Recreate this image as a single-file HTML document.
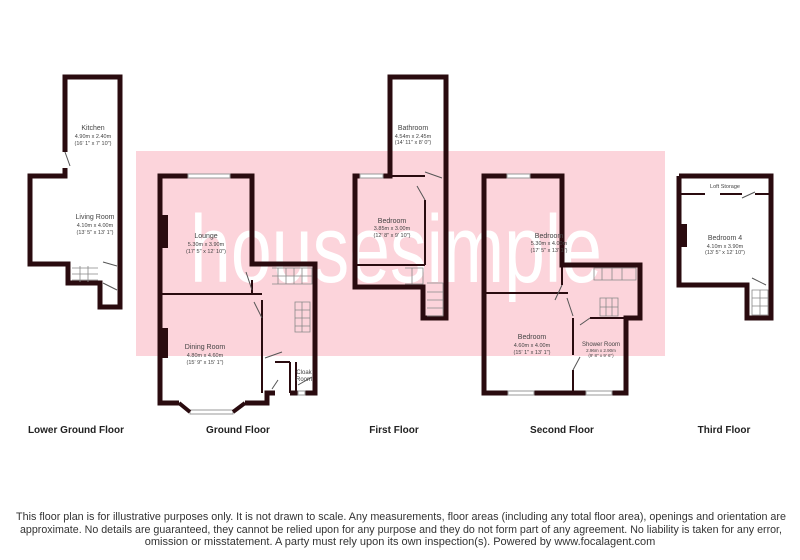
<!DOCTYPE html>
<html><head><meta charset="utf-8"><style>
html,body{margin:0;padding:0;background:#fff;}
svg{display:block;}
text{font-family:"Liberation Sans",sans-serif;}
</style></head><body>
<svg width="800" height="560" viewBox="0 0 800 560" xmlns="http://www.w3.org/2000/svg">
<rect x="136" y="151" width="529" height="205" fill="#fcd4db"/>
<text x="190" y="282" font-size="96" fill="#fff" textLength="412" lengthAdjust="spacingAndGlyphs">housesimple</text>

<g fill="none" stroke="#2a0b0f" stroke-width="5" stroke-linejoin="miter">
<!-- Lower ground -->
<polyline points="65,152 65,77 120,77 120,307 100,307 100,283 68,283 68,264 30,264 30,176 65,176 65,168"/>
<!-- Ground -->
<polyline points="188,176 160,176 160,403 179,403"/>
<polyline points="230,176 252,176 252,264 315,264 315,393 305,393"/>
<polyline points="245,403 267,403 267,393 275,393"/>
<line x1="298" y1="393" x2="290" y2="393"/>
<!-- First -->
<polyline points="360,176 355,176 355,287 423,287 423,318 446,318 446,77 390,77 390,176 383,176"/>
<!-- Second -->
<polyline points="507,176 484,176 484,393 508,393"/>
<polyline points="534,393 586,393"/>
<polyline points="612,393 626,393 626,318 640,318 640,265 562,265 562,176 530,176"/>
<!-- Third -->
<polyline points="679,176 771,176 771,318 747,318 747,285 679,285 679,176"/>
</g>
<g fill="#2a0b0f">
<rect x="160" y="215" width="8" height="33"/>
<rect x="160" y="328" width="8" height="30"/>
<rect x="679" y="224" width="8" height="23"/>
</g>
<g fill="none" stroke="#2a0b0f" stroke-width="2">
<line x1="160" y1="294" x2="262" y2="294"/>
<line x1="262" y1="300" x2="262" y2="393"/>
<line x1="252" y1="280" x2="252" y2="294"/>
<line x1="275" y1="362" x2="290" y2="362"/>
<line x1="290" y1="362" x2="290" y2="393"/>
<line x1="296" y1="362" x2="296" y2="393"/>
<line x1="355" y1="265" x2="425" y2="265"/>
<line x1="425" y1="200" x2="425" y2="265"/>
<line x1="390" y1="176" x2="425" y2="176"/>
<line x1="484" y1="293" x2="568" y2="293"/>
<line x1="573" y1="318" x2="573" y2="355"/>
<line x1="573" y1="370" x2="573" y2="393"/>
<line x1="590" y1="318" x2="626" y2="318"/>
<line x1="562" y1="265" x2="562" y2="285"/>
<line x1="679" y1="194" x2="705" y2="194"/>
<line x1="720" y1="194" x2="742" y2="194"/>
<line x1="755" y1="194" x2="771" y2="194"/>
</g>
<!-- windows -->
<g fill="#fff" stroke="#999" stroke-width="1">
<rect x="188" y="174" width="42" height="4"/>
<rect x="190" y="410" width="43" height="4"/>
<rect x="360" y="174" width="23" height="4"/>
<rect x="507" y="174" width="23" height="4"/>
<rect x="508" y="391" width="26" height="4"/>
<rect x="586" y="391" width="26" height="4"/>
<rect x="298" y="391" width="7" height="4"/>
</g>
<g fill="none" stroke="#2a0b0f" stroke-width="4">
<line x1="179" y1="403" x2="190" y2="412"/>
<line x1="233" y1="412" x2="245" y2="403"/>
</g>
<!-- doors -->
<g fill="none" stroke="#555" stroke-width="1">
<line x1="65" y1="152" x2="70" y2="166"/>
<line x1="103" y1="262" x2="117" y2="266"/>
<line x1="103" y1="283" x2="117" y2="290"/>
<line x1="246" y1="272" x2="252" y2="290"/>
<line x1="254" y1="302" x2="262" y2="318"/>
<line x1="265" y1="358" x2="282" y2="352"/>
<line x1="272" y1="389" x2="278" y2="380"/>
<line x1="298" y1="385" x2="312" y2="377"/>
<line x1="425" y1="172" x2="442" y2="178"/>
<line x1="417" y1="186" x2="425" y2="200"/>
<line x1="555" y1="300" x2="562" y2="285"/>
<line x1="567" y1="298" x2="573" y2="316"/>
<line x1="580" y1="325" x2="590" y2="318"/>
<line x1="573" y1="370" x2="580" y2="357"/>
<line x1="742" y1="198" x2="755" y2="192"/>
<line x1="752" y1="278" x2="766" y2="285"/>
</g>
<!-- stairs -->
<g fill="none" stroke="#888" stroke-width="0.8">
<path d="M72,268 h26 M72,274 h26 M72,280 h26 M80,266 v16 M88,266 v16"/>
<path d="M272,268 h40 v16 h-40 M278,268 v16 M286,268 v16 M294,268 v16 M302,268 v16 M272,276 h40"/>
<path d="M295,302 h15 v30 h-15 z M295,310 h15 M295,318 h15 M295,326 h15 M302,302 v30"/>
<path d="M405,268 h18 v16 h-18 M427,283 h16 v33 h-16 M427,292 h16 M427,300 h16 M427,308 h16 M412,268 v16"/>
<path d="M594,268 h42 v12 h-42 z M602,268 v12 M612,268 v12 M622,268 v12"/>
<path d="M600,298 h18 v18 h-18 z M606,298 v18 M612,298 v18 M600,307 h18"/>
<path d="M752,290 h16 v25 h-16 z M752,298 h16 M752,306 h16 M760,290 v25"/>
</g>
<!-- labels -->
<g fill="#444" text-anchor="middle">
<text x="93" y="130" font-size="7">Kitchen</text>
<text x="93" y="138" font-size="5.5">4.90m x 2.40m</text>
<text x="93" y="145" font-size="5.5">(16' 1" x 7' 10")</text>
<text x="95" y="219" font-size="7">Living Room</text>
<text x="95" y="227" font-size="5.5">4.10m x 4.00m</text>
<text x="95" y="234" font-size="5.5">(13' 5" x 13' 1")</text>
<text x="206" y="238" font-size="7">Lounge</text>
<text x="206" y="246" font-size="5.5">5.30m x 3.90m</text>
<text x="206" y="253" font-size="5.5">(17' 5" x 12' 10")</text>
<text x="205" y="349" font-size="7">Dining Room</text>
<text x="205" y="357" font-size="5.5">4.80m x 4.60m</text>
<text x="205" y="364" font-size="5.5">(15' 9" x 15' 1")</text>
<text x="304" y="374" font-size="6">Cloak</text>
<text x="304" y="381" font-size="6">Room</text>
<text x="413" y="130" font-size="7">Bathroom</text>
<text x="413" y="138" font-size="5.5">4.54m x 2.45m</text>
<text x="413" y="144" font-size="5.5">(14' 11" x 8' 0")</text>
<text x="392" y="223" font-size="7">Bedroom</text>
<text x="392" y="230" font-size="5.5">3.85m x 3.00m</text>
<text x="392" y="237" font-size="5.5">(12' 8" x 9' 10")</text>
<text x="549" y="238" font-size="7">Bedroom</text>
<text x="549" y="245" font-size="5.5">5.30m x 4.00m</text>
<text x="549" y="252" font-size="5.5">(17' 5" x 13' 1")</text>
<text x="532" y="339" font-size="7">Bedroom</text>
<text x="532" y="347" font-size="5.5">4.60m x 4.00m</text>
<text x="532" y="354" font-size="5.5">(15' 1" x 13' 1")</text>
<text x="601" y="346" font-size="6">Shower Room</text>
<text x="601" y="352" font-size="4.5">2.96m x 2.90m</text>
<text x="601" y="357" font-size="4.5">(9' 8" x 9' 6")</text>
<text x="725" y="188" font-size="5.5">Loft Storage</text>
<text x="725" y="240" font-size="7">Bedroom 4</text>
<text x="725" y="248" font-size="5.5">4.10m x 3.90m</text>
<text x="725" y="254" font-size="5.5">(13' 5" x 12' 10")</text>
</g>
<g fill="#222" font-size="10" font-weight="bold" text-anchor="middle">
<text x="76" y="433">Lower Ground Floor</text>
<text x="238" y="433">Ground Floor</text>
<text x="394" y="433">First Floor</text>
<text x="562" y="433">Second Floor</text>
<text x="724" y="433">Third Floor</text>
</g>
<g fill="#333" font-size="11">
<text x="16" y="520" textLength="770" lengthAdjust="spacingAndGlyphs">This floor plan is for illustrative purposes only. It is not drawn to scale. Any measurements, floor areas (including any total floor area), openings and orientation are</text>
<text x="20" y="533" textLength="762" lengthAdjust="spacingAndGlyphs">approximate. No details are guaranteed, they cannot be relied upon for any purpose and they do not form part of any agreement. No liability is taken for any error,</text>
<text x="400" y="545" text-anchor="middle">omission or misstatement. A party must rely upon its own inspection(s). Powered by www.focalagent.com</text>
</g>
</svg>
</body></html>
